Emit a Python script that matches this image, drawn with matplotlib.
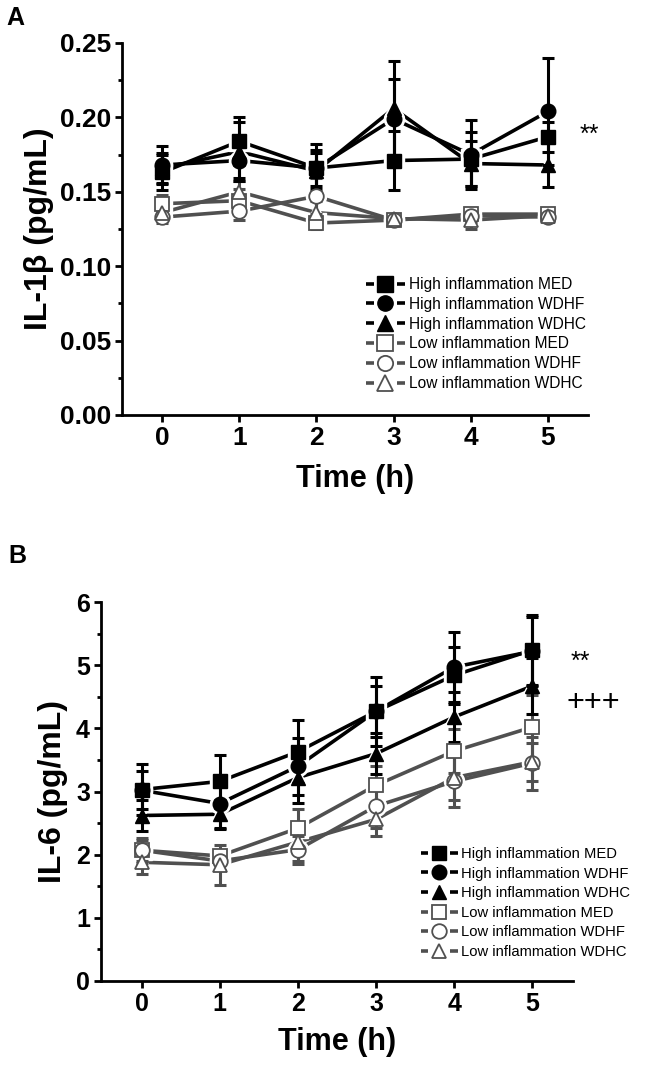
import matplotlib
matplotlib.use("Agg")
import matplotlib.pyplot as plt
from matplotlib.lines import Line2D
from matplotlib.legend_handler import HandlerBase
from matplotlib.ticker import MultipleLocator, FormatStrFormatter

plt.rcParams['font.family'] = ['Liberation Sans', 'DejaVu Sans']

# ---------------- data ----------------
time_h = [0, 1, 2, 3, 4, 5]
labels = ["High inflammation MED", "High inflammation WDHF", "High inflammation WDHC",
          "Low inflammation MED", "Low inflammation WDHF", "Low inflammation WDHC"]

# Panel A: IL-1beta (pg/mL)
a_hi_med = [0.163, 0.184, 0.166, 0.171, 0.172, 0.187]
a_hi_med_err = [0.012, 0.016, 0.016, 0.020, 0.018, 0.010]
a_hi_wdhf = [0.168, 0.171, 0.166, 0.199, 0.175, 0.204]
a_hi_wdhf_err = [0.013, 0.012, 0.012, 0.027, 0.023, 0.036]
a_hi_wdhc = [0.166, 0.177, 0.164, 0.206, 0.169, 0.168]
a_hi_wdhc_err = [0.010, 0.020, 0.012, 0.032, 0.015, 0.015]
a_lo_med = [0.142, 0.144, 0.129, 0.131, 0.135, 0.135]
a_lo_med_err = [0.006, 0.008, 0.004, 0.003, 0.004, 0.003]
a_lo_wdhf = [0.133, 0.137, 0.147, 0.131, 0.134, 0.133]
a_lo_wdhf_err = [0.004, 0.006, 0.012, 0.002, 0.004, 0.002]
a_lo_wdhc = [0.136, 0.150, 0.136, 0.132, 0.131, 0.134]
a_lo_wdhc_err = [0.005, 0.007, 0.008, 0.003, 0.006, 0.004]

# Panel B: IL-6 (pg/mL)
b_hi_med = [3.03, 3.16, 3.63, 4.27, 4.84, 5.24]
b_hi_med_err = [0.40, 0.42, 0.50, 0.55, 0.45, 0.55]
b_hi_wdhf = [3.02, 2.81, 3.40, 4.27, 4.97, 5.22]
b_hi_wdhf_err = [0.30, 0.40, 0.45, 0.40, 0.55, 0.55]
b_hi_wdhc = [2.62, 2.64, 3.22, 3.60, 4.18, 4.67]
b_hi_wdhc_err = [0.25, 0.22, 0.40, 0.32, 0.40, 0.45]
b_lo_med = [2.07, 1.98, 2.42, 3.10, 3.64, 4.02]
b_lo_med_err = [0.17, 0.10, 0.30, 0.30, 0.35, 0.50]
b_lo_wdhf = [2.07, 1.90, 2.08, 2.77, 3.16, 3.45]
b_lo_wdhf_err = [0.20, 0.15, 0.22, 0.35, 0.40, 0.42]
b_lo_wdhc = [1.88, 1.84, 2.20, 2.56, 3.22, 3.47]
b_lo_wdhc_err = [0.18, 0.32, 0.30, 0.26, 0.35, 0.30]

BLACK = "#000000"
GRAY = "#505050"
styles = [
    dict(marker='s', color=BLACK, face=BLACK),
    dict(marker='o', color=BLACK, face=BLACK),
    dict(marker='^', color=BLACK, face=BLACK),
    dict(marker='s', color=GRAY, face='white'),
    dict(marker='o', color=GRAY, face='white'),
    dict(marker='^', color=GRAY, face='white'),
]

fig = plt.figure(figsize=(6.46, 10.77), dpi=100)
axA = fig.add_axes([122/646, 1-415/1077, 466/646, 372/1077])
axB = fig.add_axes([101/646, 1-981/1077, 472/646, 379/1077])


def draw(ax, series, errs, ms):
    order = [3, 4, 5, 0, 1, 2]
    for i in order:
        st = styles[i]
        ax.plot(time_h, series[i], color=st['color'], lw=2.6, zorder=2, solid_capstyle='butt')
    for i in order:
        st = styles[i]
        ax.plot(time_h, series[i], ls='none', marker=st['marker'], ms=ms + 4,
                color='white', mec='white', zorder=3)
    for i in order:
        st = styles[i]
        ax.errorbar(time_h, series[i], yerr=errs[i], fmt='none', ecolor=st['color'],
                    elinewidth=2.2, capsize=4.5, capthick=2.2, zorder=4)
    for i in order:
        st = styles[i]
        mew = 1.3 if st['face'] == 'white' else 1.0
        ax.plot(time_h, series[i], ls='none', marker=st['marker'], ms=ms,
                mfc=st['face'], mec=st['color'], mew=mew, zorder=5)


def style_axes(ax, tick_fs):
    for s in ['top', 'right']:
        ax.spines[s].set_visible(False)
    for s in ['left', 'bottom']:
        ax.spines[s].set_linewidth(2.0)
    ax.tick_params(axis='both', which='major', direction='out', length=5, width=2.0,
                   labelsize=tick_fs, pad=3)
    ax.tick_params(axis='y', which='minor', direction='out', length=3, width=2.0)
    ax.tick_params(axis='x', which='minor', bottom=False)
    for lab in ax.get_xticklabels() + ax.get_yticklabels():
        lab.set_fontweight('bold')
    ax.set_xlim(-0.52, 5.52)
    ax.set_xticks(time_h)


class DashMarkerHandler(HandlerBase):
    """Legend key drawn as  -[marker]-  with short line stubs on both sides."""

    def create_artists(self, legend, orig_handle, xdescent, ydescent, width, height,
                       fontsize, trans):
        y = height / 2.0 - ydescent
        x0 = -xdescent
        x1 = width - xdescent
        seg = 0.2 * width
        color = orig_handle.get_color()
        lw = orig_handle.get_linewidth()
        left = Line2D([x0, x0 + seg], [y, y], color=color, lw=lw, solid_capstyle='butt')
        right = Line2D([x1 - seg, x1], [y, y], color=color, lw=lw, solid_capstyle='butt')
        mk = Line2D([(x0 + x1) / 2.0], [y], ls='none', marker=orig_handle.get_marker(),
                    ms=orig_handle.get_markersize(), mfc=orig_handle.get_markerfacecolor(),
                    mec=orig_handle.get_markeredgecolor(), mew=orig_handle.get_markeredgewidth())
        for a in (left, right, mk):
            a.set_transform(trans)
        return [left, right, mk]


def add_legend(ax, fs, anchor, ms, spacing):
    handles = []
    for st in styles:
        handles.append(Line2D([], [], color=st['color'], lw=2.6, marker=st['marker'], ms=ms,
                              mfc=st['face'], mec=st['color'],
                              mew=1.3 if st['face'] == 'white' else 1.0))
    leg = ax.legend(handles, labels, loc='upper left', bbox_to_anchor=anchor,
                    bbox_transform=fig.transFigure, frameon=False, fontsize=fs,
                    handlelength=2.5, handletextpad=0.25, labelspacing=spacing,
                    borderpad=0, borderaxespad=0,
                    handler_map={Line2D: DashMarkerHandler()})
    return leg


# ---------------- Panel A ----------------
seriesA = [a_hi_med, a_hi_wdhf, a_hi_wdhc, a_lo_med, a_lo_wdhf, a_lo_wdhc]
errsA = [a_hi_med_err, a_hi_wdhf_err, a_hi_wdhc_err, a_lo_med_err, a_lo_wdhf_err, a_lo_wdhc_err]
draw(axA, seriesA, errsA, ms=10.5)
axA.set_ylim(0, 0.25)
axA.yaxis.set_major_locator(MultipleLocator(0.05))
axA.yaxis.set_minor_locator(MultipleLocator(0.025))
axA.yaxis.set_major_formatter(FormatStrFormatter('%.2f'))
style_axes(axA, 19)
axA.set_ylabel("IL-1β (pg/mL)", fontsize=23, fontweight='bold', labelpad=4)
axA.set_xlabel("Time (h)", fontsize=22, fontweight='bold', labelpad=10)
add_legend(axA, 11.2, (366/646, 1-277/1077), ms=11, spacing=0.31)
fig.text(580/646, 1-135/1077, "**", fontsize=18, ha='left', va='center')
fig.text(6/646, 1-18/1077, "A", fontsize=18, fontweight='bold', ha='left', va='center')

# ---------------- Panel B ----------------
seriesB = [b_hi_med, b_hi_wdhf, b_hi_wdhc, b_lo_med, b_lo_wdhf, b_lo_wdhc]
errsB = [b_hi_med_err, b_hi_wdhf_err, b_hi_wdhc_err, b_lo_med_err, b_lo_wdhf_err, b_lo_wdhc_err]
draw(axB, seriesB, errsB, ms=10.5)
axB.set_ylim(0, 6)
axB.yaxis.set_major_locator(MultipleLocator(1))
axB.yaxis.set_minor_locator(MultipleLocator(0.5))
style_axes(axB, 18)
axB.set_ylabel("IL-6 (pg/mL)", fontsize=23, fontweight='bold', labelpad=6)
axB.set_xlabel("Time (h)", fontsize=22, fontweight='bold', labelpad=8)
add_legend(axB, 10.6, (421/646, 1-847/1077), ms=10.5, spacing=0.38)
fig.text(571/646, 1-662/1077, "**", fontsize=18, ha='left', va='center')
fig.text(567/646, 1-703/1077, "+++", fontsize=22, ha='left', va='center')
fig.text(8/646, 1-556/1077, "B", fontsize=18, fontweight='bold', ha='left', va='center')

fig.savefig("out.png", dpi=100)
